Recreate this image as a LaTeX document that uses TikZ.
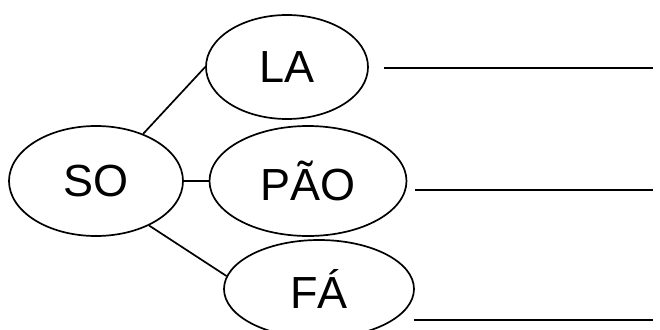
\documentclass[tikz,border=0pt]{standalone}
\usepackage{fontspec}
\setmainfont{Liberation Sans}
\usetikzlibrary{shapes.geometric}
\begin{document}
\begin{tikzpicture}[x=1pt,y=-1pt]
    \tikzset{bubble/.style={shape=ellipse,draw,line width=1.7pt,inner sep=0pt,font=\fontsize{45}{50}\selectfont},
             rule line/.style={line width=2pt}}
    \useasboundingbox (0,0) rectangle (660,329);
    \clip (0,0) rectangle (660,329);
    \node[bubble,minimum width=174pt,minimum height=110pt] (so) at (96,181) {SO};
    \node[bubble,minimum width=162pt,minimum height=104pt] (la) at (287,67) {LA};
    \node[bubble,minimum width=197pt,minimum height=110pt] (pao) at (308,181) {PÃO};
    \node[bubble,minimum width=190pt,minimum height=98pt] (fa) at (319,289) {FÁ};
    % links from SO
    \draw[line width=1.7pt] (so.45) to (la.west);
    \draw[line width=1.7pt] (so.east) to (pao.west);
    \draw[line width=1.7pt] (so.-40) to (fa.172);
    % answer lines
    \coordinate (la end) at (653,68);
    \coordinate (pao end) at (653,190);
    \coordinate (fa end) at (653,320);
    \draw[rule line] ([xshift=15pt]la.east |- la end) to (la end);
    \draw[rule line] ([xshift=8pt]pao.east |- pao end) to (pao end);
    \draw[rule line] ([xshift=-1pt]fa.east |- fa end) to (fa end);
\end{tikzpicture}
\end{document}
